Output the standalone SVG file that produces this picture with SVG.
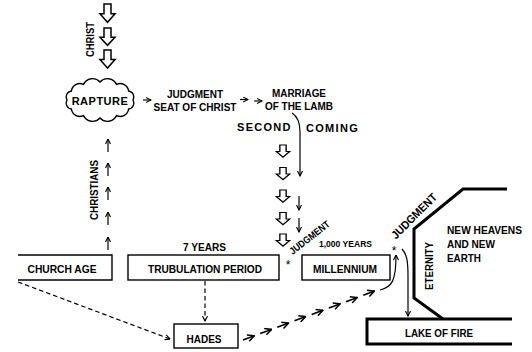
<svg xmlns="http://www.w3.org/2000/svg" width="532" height="352" viewBox="0 0 532 352">
<style>
.t{font-family:"Liberation Sans",Arial,sans-serif;font-weight:bold;font-size:11.5px;fill:#000}
.m{text-anchor:middle}
.box{fill:none;stroke:#000;stroke-width:1.4}
.thick{fill:none;stroke:#000;stroke-width:3;stroke-linejoin:miter}
.ar{fill:none;stroke:#000;stroke-width:1.2;marker-end:url(#ah)}
.ch{fill:none;stroke:#000;stroke-width:1.6;marker-end:url(#ah2)}
.dash{stroke-dasharray:4.5 3}
.hol{fill:#fff;stroke:#000;stroke-width:1.5;stroke-linejoin:miter}
</style>
<defs>
<marker id="ah" viewBox="0 0 6 6" refX="5.5" refY="3" markerWidth="6" markerHeight="6" markerUnits="userSpaceOnUse" orient="auto">
<path d="M0.5,0.5 L5.5,3 L0.5,5.5" fill="none" stroke="#000" stroke-width="1.1"/>
</marker>
<marker id="ah2" viewBox="0 0 8 8" refX="7.3" refY="4" markerWidth="8" markerHeight="8" markerUnits="userSpaceOnUse" orient="auto">
<path d="M0.7,0.7 L7.3,4 L0.7,7.3" fill="none" stroke="#000" stroke-width="1.5"/>
</marker>
<path id="hollow" d="M-3.5,0 H3.5 V9 H7.5 L0,17 L-7.5,9 H-3.5 Z"/>
</defs>
<rect width="532" height="352" fill="#fff"/>

<g id="rapture">
<path class="box" d="M133,100 A6,6 0 0 1 128.6,109 A8.5,8.5 0 0 1 116.5,115.6 A10,10 0 0 1 100,118 A10,10 0 0 1 83.5,115.6 A8.5,8.5 0 0 1 71.4,109 A6,6 0 0 1 67,100 A6,6 0 0 1 71.4,91 A8.5,8.5 0 0 1 83.5,84.4 A10,10 0 0 1 100,82 A10,10 0 0 1 116.5,84.4 A8.5,8.5 0 0 1 128.6,91 A6,6 0 0 1 133,100 Z" fill="#fff"/>
<text class="t m" x="100" y="105" style="font-size:11px;letter-spacing:0.5px">RAPTURE</text>
</g>

<g id="judgment-seat">
<text class="t m" x="195" y="98" textLength="56" lengthAdjust="spacingAndGlyphs">JUDGMENT</text>
<text class="t m" x="195" y="111" textLength="83" lengthAdjust="spacingAndGlyphs">SEAT OF CHRIST</text>
</g>

<g id="marriage">
<text class="t m" x="299" y="96.5" textLength="54" lengthAdjust="spacingAndGlyphs">MARRIAGE</text>
<text class="t m" x="299" y="109.5" textLength="68" lengthAdjust="spacingAndGlyphs">OF THE LAMB</text>
</g>

<g id="second-coming">
<text class="t" x="237" y="131" style="font-size:11px;letter-spacing:1.3px">SECOND</text>
<text class="t" x="306" y="132" style="font-size:11px;letter-spacing:1.3px">COMING</text>
</g>

<g id="church-age">
<path class="box" d="M18,255 H112 V280 H18"/>
<text class="t m" x="62" y="273" textLength="69" lengthAdjust="spacingAndGlyphs">CHURCH AGE</text>
</g>

<g id="tribulation">
<rect class="box" x="128" y="255" width="151" height="25"/>
<text class="t m" x="205" y="273" textLength="114" lengthAdjust="spacingAndGlyphs">TRUBULATION PERIOD</text>
<text class="t m" x="204.5" y="251" textLength="43" lengthAdjust="spacingAndGlyphs">7 YEARS</text>
</g>

<g id="millennium">
<rect class="box" x="302" y="255" width="88" height="25"/>
<text class="t m" x="345" y="273" textLength="64" lengthAdjust="spacingAndGlyphs">MILLENNIUM</text>
<text class="t m" x="345.5" y="247" style="font-size:9px" textLength="53" lengthAdjust="spacingAndGlyphs">1,000 YEARS</text>
</g>

<g id="hades">
<rect class="box" x="174" y="324" width="64" height="24"/>
<text class="t m" x="204" y="343" textLength="35" lengthAdjust="spacingAndGlyphs">HADES</text>
</g>

<g id="lake-of-fire">
<path class="thick" d="M512,319 H367 V344 H512"/>
<text class="t m" x="439" y="337" textLength="68" lengthAdjust="spacingAndGlyphs">LAKE OF FIRE</text>
</g>

<g id="eternity">
<path class="thick" d="M507,189 H463 L414,229 V298 L443,319"/>
<text class="t m" transform="translate(432.5,266) rotate(-90)" textLength="48" lengthAdjust="spacingAndGlyphs">ETERNITY</text>
<text class="t" x="447" y="234" textLength="75" lengthAdjust="spacingAndGlyphs">NEW HEAVENS</text>
<text class="t" x="447" y="248" textLength="48" lengthAdjust="spacingAndGlyphs">AND NEW</text>
<text class="t" x="447" y="262" textLength="34" lengthAdjust="spacingAndGlyphs">EARTH</text>
</g>

<g id="labels">
<text class="t m" transform="translate(93.5,39.5) rotate(-90)" style="font-size:11px" textLength="35" lengthAdjust="spacingAndGlyphs">CHRIST</text>
<text class="t m" transform="translate(97.5,190) rotate(-90)" textLength="60" lengthAdjust="spacingAndGlyphs">CHRISTIANS</text>
<text class="t m" transform="translate(309.5,237.5) rotate(-38)" y="3.5" style="font-size:10px" textLength="48" lengthAdjust="spacingAndGlyphs">JUDGMENT</text>
<text class="t m" transform="translate(414,216) rotate(-45)" y="4" textLength="59" lengthAdjust="spacingAndGlyphs">JUDGMENT</text>
<text x="288" y="269" text-anchor="middle" style="font-family:'Liberation Sans',Arial,sans-serif;font-size:12px">*</text>
<text x="394" y="255" text-anchor="middle" style="font-family:'Liberation Sans',Arial,sans-serif;font-size:12px">*</text>
</g>

<g id="connectors">
<use href="#hollow" class="hol" transform="translate(107.5,4) scale(1,1.08)"/>
<use href="#hollow" class="hol" transform="translate(107.5,28) scale(1,1.02)"/>
<use href="#hollow" class="hol" transform="translate(107.5,50) scale(1,1.06)"/>

<use href="#hollow" class="hol" transform="translate(283,145) scale(0.9,0.72)"/>
<use href="#hollow" class="hol" transform="translate(283,167.5) scale(0.9,0.72)"/>
<use href="#hollow" class="hol" transform="translate(283,190) scale(0.9,0.72)"/>
<use href="#hollow" class="hol" transform="translate(283,212.5) scale(0.9,0.72)"/>
<use href="#hollow" class="hol" transform="translate(283,234) scale(0.9,0.72)"/>

<line class="ar" x1="143" y1="100" x2="151" y2="100"/>
<line class="ar" x1="240" y1="99.5" x2="248" y2="99.5"/>
<line class="ar" x1="254" y1="101" x2="262" y2="101"/>

<path class="ar" d="M292,113 Q300,118 300,132 V176"/>
<line class="ar" x1="299" y1="196" x2="299" y2="210"/>
<line class="ar" x1="299" y1="218" x2="299" y2="232"/>

<line class="ar" x1="108" y1="152" x2="108" y2="139"/>
<line class="ar" x1="108" y1="176" x2="108" y2="163"/>
<line class="ar" x1="108" y1="200" x2="108" y2="187"/>
<line class="ar" x1="108" y1="225" x2="108" y2="212"/>
<line class="ar" x1="108" y1="250" x2="108" y2="237"/>

<path class="ar dash" d="M18,282 L170,339"/>
<path class="ar dash" d="M205,281 V321"/>

<line class="ch" x1="243" y1="340" x2="254.3" y2="335.8"/>
<line class="ch" x1="260.2" y1="333.6" x2="271.5" y2="329.4"/>
<line class="ch" x1="277.3" y1="327.2" x2="288.6" y2="323"/>
<line class="ch" x1="294.5" y1="320.8" x2="305.7" y2="316.6"/>
<line class="ch" x1="311.7" y1="314.5" x2="322.9" y2="310.3"/>
<line class="ch" x1="328.8" y1="308.1" x2="340.1" y2="303.9"/>
<line class="ch" x1="346" y1="301.7" x2="357.2" y2="297.5"/>
<line class="ch" x1="363.2" y1="295.3" x2="374.4" y2="291.1"/>
<path class="ar" d="M380,290 C392,287 396,281 396,255"/>

<path class="ar" d="M402,249 C407,254 408,262 408,276 V316"/>
</g>
</svg>
